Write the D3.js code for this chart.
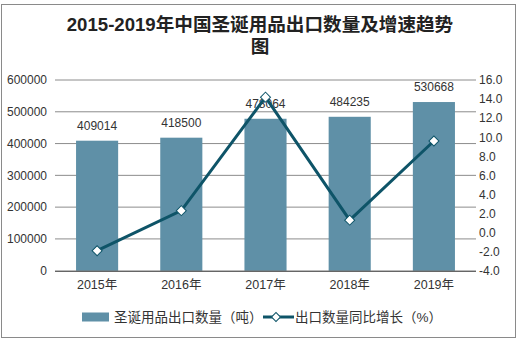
<!DOCTYPE html>
<html><head><meta charset="utf-8">
<script src="https://cdn.jsdelivr.net/npm/d3@7"></script>
<style>
body{margin:0;background:#fff;}
svg text{font-family:"Liberation Sans","Noto Sans CJK SC",sans-serif;}
</style></head>
<body><svg id="c" width="518" height="343"></svg>
<script>
const years = ["2015年","2016年","2017年","2018年","2019年"];
const exportQty = [409014, 418500, 478064, 484235, 530668];
const growth = [-1.9, 2.3, 14.2, 1.3, 9.6];
const leftTicks = [0,100000,200000,300000,400000,500000,600000];
const rightTicks = [-4,-2,0,2,4,6,8,10,12,14,16];
const titleLines = ["2015-2019年中国圣诞用品出口数量及增速趋势","图"];
const legendNames = ["圣诞用品出口数量（吨）","出口数量同比增长（%）"];

const svg = d3.select("#c");
const barColor = "#5f90a7", lineColor = "#0e5468";
const m = {l:55, r:476, t:80, b:270.7};

svg.append("rect").attr("x",1.5).attr("y",4.5).attr("width",514).attr("height",333)
  .attr("fill","#fff").attr("stroke","#8a8a8a").attr("stroke-width",1);

svg.append("g").selectAll("text").data(titleLines).join("text")
  .attr("x",260).attr("y",(d,i)=>31+i*22).attr("text-anchor","middle")
  .attr("font-size",18.6).attr("font-weight","bold").attr("fill","#222").text(d=>d);

const x = d3.scaleBand().domain(years).range([m.l,m.r]).paddingInner(0.5).paddingOuter(0.25);
const yL = d3.scaleLinear().domain([0,600000]).range([m.b,m.t]);
const yR = d3.scaleLinear().domain([-4,16]).range([m.b,m.t]);

// grid
svg.append("g").selectAll("line").data(leftTicks.slice(1)).join("line")
  .attr("x1",m.l).attr("x2",m.r).attr("y1",d=>yL(d)).attr("y2",d=>yL(d))
  .attr("stroke","#8c8c8c").attr("stroke-width",1);

// left axis
const ga = svg.append("g").attr("transform",`translate(${m.l},0)`)
  .call(d3.axisLeft(yL).tickValues(leftTicks).tickFormat(d3.format("d")).tickSize(0).tickPadding(8));
ga.select(".domain").remove();
ga.selectAll("text").attr("font-size",12).attr("fill","#333").style("font-family","Liberation Sans");

// right axis
const gr = svg.append("g").attr("transform",`translate(${m.r},0)`)
  .call(d3.axisRight(yR).tickValues(rightTicks).tickFormat(d3.format(".1f")).tickSize(0).tickPadding(3));
gr.select(".domain").remove();
gr.selectAll("text").attr("font-size",12).attr("fill","#333").style("font-family","Liberation Sans")
  .text(d=>d3.format(".1f")(d).replace("−","-"));

// bars
svg.append("g").selectAll("rect").data(exportQty).join("rect")
  .attr("x",(d,i)=>x(years[i])).attr("width",x.bandwidth())
  .attr("y",d=>yL(d)).attr("height",d=>m.b-yL(d)).attr("fill",barColor);

// x axis
const gx = svg.append("g").attr("transform",`translate(0,${m.b})`)
  .call(d3.axisBottom(x).tickSize(0).tickPadding(9));
gx.select(".domain").attr("stroke","#222").attr("d",`M${m.l},0.5H${m.r}`);
gx.selectAll("text").attr("font-size",12.5).attr("fill","#333");

// bar labels
svg.append("g").selectAll("text").data(exportQty).join("text")
  .attr("x",(d,i)=>x(years[i])+x.bandwidth()/2).attr("y",d=>yL(d)-11)
  .attr("text-anchor","middle").attr("font-size",12).attr("fill","#333").text(d=>d);

// line
const cx = (i)=>x(years[i])+x.bandwidth()/2;
svg.append("path").datum(growth)
  .attr("d",d3.line().x((d,i)=>cx(i)).y(d=>yR(d)))
  .attr("fill","none").attr("stroke",lineColor).attr("stroke-width",3);
svg.append("g").selectAll("path").data(growth).join("path")
  .attr("d",d3.symbol().type(d3.symbolSquare).size(50))
  .attr("transform",(d,i)=>`translate(${cx(i)},${yR(d)}) rotate(45)`)
  .attr("fill","#fff").attr("stroke",lineColor).attr("stroke-width",1);

// legend
const ly = 317;
svg.append("rect").attr("x",82).attr("y",ly-4.5).attr("width",27).attr("height",9).attr("fill",barColor);
svg.append("text").attr("x",114).attr("y",ly+5).attr("font-size",13.5).attr("fill","#333").text(legendNames[0]);
svg.append("line").attr("x1",263).attr("x2",294).attr("y1",ly).attr("y2",ly).attr("stroke",lineColor).attr("stroke-width",3);
svg.append("path").attr("d",d3.symbol().type(d3.symbolSquare).size(40))
  .attr("transform",`translate(276,${ly}) rotate(45)`).attr("fill","#fff").attr("stroke",lineColor).attr("stroke-width",1);
svg.append("text").attr("x",295).attr("y",ly+5).attr("font-size",13.5).attr("fill","#333").text(legendNames[1]);
</script></body></html>
